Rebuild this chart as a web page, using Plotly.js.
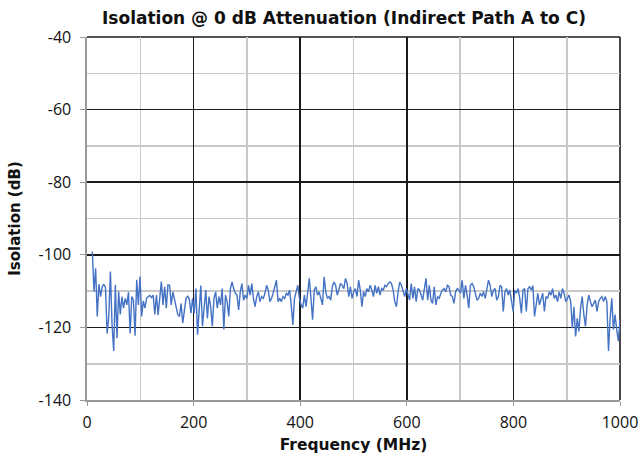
<!DOCTYPE html>
<html>
<head>
<meta charset="utf-8">
<script src="https://cdn.plot.ly/plotly-3.0.1.min.js"></script>
<style>html,body{margin:0;padding:0;background:#fff;}#chart{width:643px;height:457px;}</style>
</head>
<body>
<div id="chart"></div>
<script>
var chartTitle = "Isolation @ 0 dB Attenuation (Indirect Path A to C)";
var xTitle = "Frequency (MHz)";
var yTitle = "Isolation (dB)";
var freqStartMHz = 10;
var freqStopMHz = 1000;

var isolationSeg1 = [-99.1,-110.1,-103.7,-117.0,-108.1,-111.5,-108.8,-108.1,-109.0,-121.7,-117.0,-104.6,-119.4,-126.5,-108.3,-123.0,-110.1,-116.4,-111.5,-114.7,-112.0,-113.8,-110.3,-121.7,-111.5,-112.4,-122.3,-106.9,-113.8,-106.0,-117.0,-112.7,-114.7,-112.0,-111.5,-111.2,-111.8,-111.1,-116.4,-111.1,-116.6,-111.1,-107.4,-113.8,-108.8,-114.7,-108.3];
var isolationSeg2 = [-108.4,-113.8,-110.2,-112.5,-114.7,-116.5,-117.0,-113.4,-118.8,-115.6,-112.0,-111.4,-112.2,-116.1,-112.0,-116.1,-109.3,-122.0,-114.7,-108.5,-119.7,-114.7,-109.7,-117.5,-111.5,-114.3,-119.7,-112.0,-110.2,-114.7,-111.5,-113.8,-109.3,-120.6,-111.1,-112.9,-117.0,-109.3,-107.5,-109.3,-110.6,-111.1,-115.2,-110.2,-107.9,-112.5,-111.1,-112.0,-108.4,-111.1,-107.9,-112.0,-114.3,-111.5,-110.2,-112.9,-111.5,-112.0,-110.6,-108.4,-109.7,-112.9,-112.0,-110.6,-108.4,-107.0,-112.9];
var isolationSeg3 = [-112.0,-112.9,-111.5,-112.0,-110.6,-111.1,-109.7,-113.8,-119.3,-112.0,-109.7,-108.4,-112.0,-113.8,-114.7,-111.1,-114.3,-109.7,-106.5,-112.0,-117.9,-109.7,-108.8,-111.1,-110.2,-112.0,-113.8,-106.1,-110.2,-112.0,-111.5,-112.5,-108.8,-107.5,-108.4,-111.1,-109.7,-107.9,-108.4,-109.3,-106.5,-107.9,-111.5,-108.8,-112.0,-110.2,-109.3,-111.5,-107.0,-109.7,-114.3,-110.2,-111.5,-109.3,-110.2,-108.4,-109.7,-111.5,-108.4,-110.6,-108.8,-111.1,-109.3,-109.7,-108.4,-108.8,-107.9];
var isolationSeg4 = [-107.5,-107.9,-109.7,-112.9,-114.3,-110.2,-107.5,-108.4,-109.7,-111.5,-109.3,-110.6,-112.5,-107.9,-112.0,-108.8,-112.9,-109.3,-109.7,-111.1,-112.5,-109.3,-106.5,-112.5,-108.4,-112.5,-113.4,-108.8,-113.8,-111.5,-112.0,-110.6,-109.7,-109.3,-110.2,-108.4,-108.8,-111.1,-111.5,-113.4,-110.2,-109.3,-109.7,-110.6,-107.0,-112.0,-108.4,-111.1,-114.7,-108.4,-107.9,-108.8,-111.1,-112.5,-112.0,-110.6,-111.5,-110.2,-112.0,-109.3,-107.0,-108.4,-111.5,-109.7,-109.3,-112.5,-111.5,-108.4];
var isolationSeg5 = [-108.8,-115.6,-110.2,-109.3,-111.1,-109.7,-112.9,-115.6,-109.7,-110.6,-109.3,-112.0,-116.1,-109.7,-109.3,-115.6,-109.3,-108.8,-109.7,-108.5,-117.0,-112.9,-110.6,-113.8,-112.0,-110.6,-115.6,-111.5,-112.0,-110.2,-111.1,-109.3,-112.0,-111.1,-112.9,-110.2,-112.0,-109.3,-110.6,-112.9,-112.0,-111.1,-112.9,-120.2,-114.3,-122.5,-117.5,-121.1,-114.7,-111.5,-116.5,-119.7,-113.8,-111.1,-112.9,-114.3,-113.4,-112.5,-115.6,-112.9,-112.0,-111.5,-112.9,-111.5,-112.9,-126.5,-117.5,-112.0,-120.6,-116.5,-120.6,-123.8,-117.9];

var isolation = isolationSeg1.concat(isolationSeg2, isolationSeg3, isolationSeg4, isolationSeg5);

var yTickVals = [-140,-120,-100,-80,-60,-40];
var xTickVals = [0,200,400,600,800,1000];

var trace = {
  type: 'scatter',
  mode: 'lines',
  y: isolation,
  x0: freqStartMHz,
  dx: (freqStopMHz - freqStartMHz) / (isolation.length - 1),
  line: {color: '#4472C4', width: 1.4},
  hoverinfo: 'skip'
};

var TITLEFONT = 'DejaVu Sans, sans-serif';
var TICKFONT = 'Open Sans, sans-serif';
var tickFont = {family: TICKFONT, size: 16, color: '#111'};
var layout = {
  width: 643, height: 457,
  margin: {l: 87, r: 23, t: 37, b: 57},
  paper_bgcolor: '#fff', plot_bgcolor: '#fff',
  showlegend: false,
  title: {text: '<b>' + chartTitle + '</b>', x: 0.535, xanchor: 'center', y: 0.96, yanchor: 'middle',
          font: {family: TITLEFONT, size: 17, color: '#111'}},
  xaxis: {
    range: [0, 1000], tickvals: xTickVals, ticktext: xTickVals.map(String),
    showgrid: true, gridcolor: '#1a1a1a', gridwidth: 1.6,
    minor: {dtick: 100, tick0: 0, showgrid: true, gridcolor: '#c8c8c8', gridwidth: 1.6},
    showline: true, linecolor: '#999', linewidth: 1.6,
    ticks: 'outside', ticklen: 4, tickcolor: '#999', tickwidth: 1,
    ticklabelstandoff: 3,
    zeroline: false, tickfont: tickFont,
    title: {text: '<b>' + xTitle + '</b>', standoff: 7, font: {family: TITLEFONT, size: 15.5, color: '#111'}}
  },
  yaxis: {
    range: [-140, -40], tickvals: yTickVals, ticktext: yTickVals.map(String),
    showgrid: true, gridcolor: '#1a1a1a', gridwidth: 1.6,
    minor: {dtick: 10, tick0: 0, showgrid: true, gridcolor: '#c8c8c8', gridwidth: 1.6},
    showline: true, linecolor: '#999', linewidth: 1.6,
    ticks: 'outside', ticklen: 5, tickcolor: '#999', tickwidth: 1,
    ticklabelstandoff: 6,
    zeroline: false, tickfont: tickFont,
    title: {text: '<b>' + yTitle + '</b>', standoff: 14, font: {family: TITLEFONT, size: 15, color: '#111'}}
  },
  shapes: [
    {type: 'line', xref: 'paper', yref: 'paper', x0: 0, x1: 1, y0: 1, y1: 1, line: {color: '#1a1a1a', width: 1.6}, layer: 'below'},
    {type: 'line', xref: 'paper', yref: 'paper', x0: 1, x1: 1, y0: 0, y1: 1, line: {color: '#1a1a1a', width: 1.6}, layer: 'below'}
  ]
};

Plotly.newPlot('chart', [trace], layout, {staticPlot: true, displayModeBar: false});
</script>
</body>
</html>
